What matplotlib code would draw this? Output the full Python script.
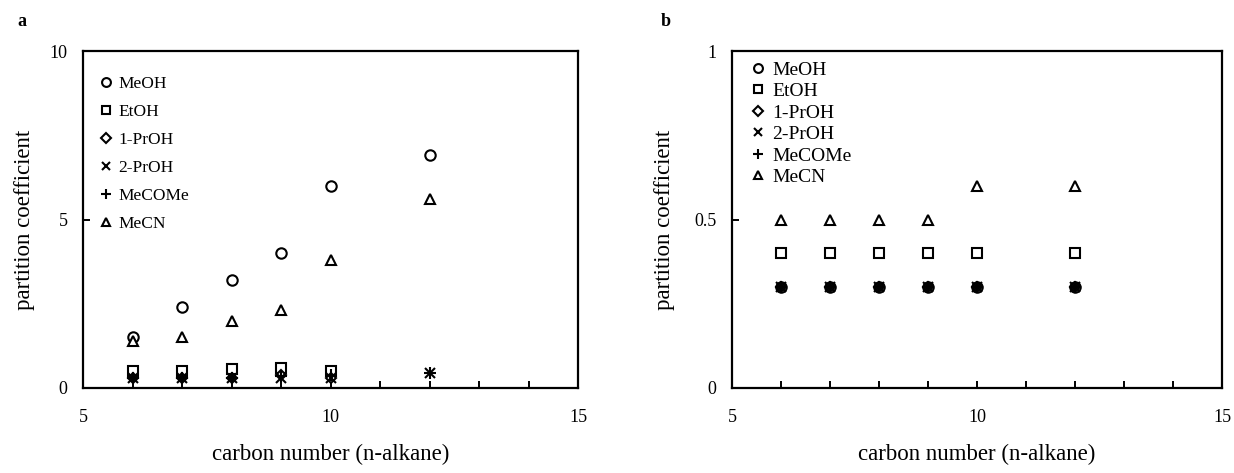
import numpy as np
import matplotlib
matplotlib.use("Agg")
import matplotlib.pyplot as plt

plt.rcParams['font.family'] = ['Liberation Serif', 'DejaVu Serif']
plt.rcParams['mathtext.fontset'] = 'stix'

carbon = [6, 7, 8, 9, 10, 12]
series_names = ["MeOH", "EtOH", "1-PrOH", "2-PrOH", "MeCOMe", "MeCN"]

# panel a
a_meoh = [1.5, 2.4, 3.2, 4.0, 6.0, 6.9]
a_etoh = [0.5, 0.5, 0.55, 0.6, 0.5, np.nan]
a_1proh = [0.3, 0.3, 0.3, 0.4, 0.3, np.nan]
a_2proh = [0.3, 0.3, 0.3, 0.3, 0.3, 0.45]
a_mecome = [0.3, 0.3, 0.3, 0.35, 0.4, 0.45]
a_mecn = [1.4, 1.5, 2.0, 2.3, 3.8, 5.6]

# panel b
b_meoh = [0.3, 0.3, 0.3, 0.3, 0.3, 0.3]
b_etoh = [0.4, 0.4, 0.4, 0.4, 0.4, 0.4]
b_1proh = [0.3, 0.3, 0.3, 0.3, 0.3, 0.3]
b_2proh = [0.3, 0.3, 0.3, 0.3, 0.3, 0.3]
b_mecome = [0.3, 0.3, 0.3, 0.3, 0.3, 0.3]
b_mecn = [0.5, 0.5, 0.5, 0.5, 0.6, 0.6]

markers = ['o', 's', 'D', 'x', '+', '^']
msizes = [7.5, 7.5, 5.5, 7.5, 8, 7.5]

fig = plt.figure(figsize=(12.34, 4.73), dpi=100)
ax_a = fig.add_axes([83/1234, 1-388/473, (578-83)/1234, (388-51)/473])
ax_b = fig.add_axes([732/1234, 1-388/473, (1222-732)/1234, (388-51)/473])

def draw(ax, data, ymax, yticks, yticklabels, leg_anchor, labelspacing, leg_fs, ylab_x):
    for vals, m, ms, name in zip(data, markers, msizes, series_names):
        ax.plot(carbon, vals, linestyle='none', marker=m, markersize=ms,
                markerfacecolor='white' if m not in ('x', '+') else 'black',
                markeredgecolor='black', markeredgewidth=1.5, color='black', label=name)
    ax.set_xlim(5, 15)
    ax.set_ylim(0, ymax)
    ax.set_xticks([5, 10, 15])
    ax.set_xticklabels(['5', '10', '15'])
    ax.set_xticks(range(5, 16), minor=True)
    ax.set_yticks(yticks)
    ax.set_yticklabels(yticklabels)
    ax.tick_params(axis='x', which='both', direction='in', length=5, width=1.4, pad=15, labelsize=13)
    ax.tick_params(axis='y', which='both', direction='in', length=5, width=1.4, pad=11, labelsize=13)
    for sp in ax.spines.values():
        sp.set_linewidth(1.6)
    ax.set_xlabel('carbon number (n-alkane)', fontsize=16.5)
    ax.xaxis.set_label_coords(0.5, -0.165)
    ax.set_ylabel('partition coefficient', fontsize=16.5)
    ax.yaxis.set_label_coords(ylab_x, 0.5)
    leg = ax.legend(loc='upper left', bbox_to_anchor=leg_anchor, frameon=False,
                    borderaxespad=0, borderpad=0, handlelength=0.9, handletextpad=0.3,
                    labelspacing=labelspacing, fontsize=leg_fs, markerscale=0.85)
    return leg

draw(ax_a, [a_meoh, a_etoh, a_1proh, a_2proh, a_mecome, a_mecn], 10,
     [0, 5, 10], ['0', '5', '10'], (0.03, 0.925), 0.68, 12.5, -0.097)
draw(ax_b, [b_meoh, b_etoh, b_1proh, b_2proh, b_mecome, b_mecn], 1,
     [0, 0.5, 1], ['0', '0.5', '1'], (0.035, 0.97), 0.2, 14, -0.116)

fig.text(22/1234, 1-22/473, 'a', fontsize=13, fontweight='bold', ha='center', va='center')
fig.text(666/1234, 1-22/473, 'b', fontsize=13, fontweight='bold', ha='center', va='center')

fig.savefig('out.png', dpi=100)
